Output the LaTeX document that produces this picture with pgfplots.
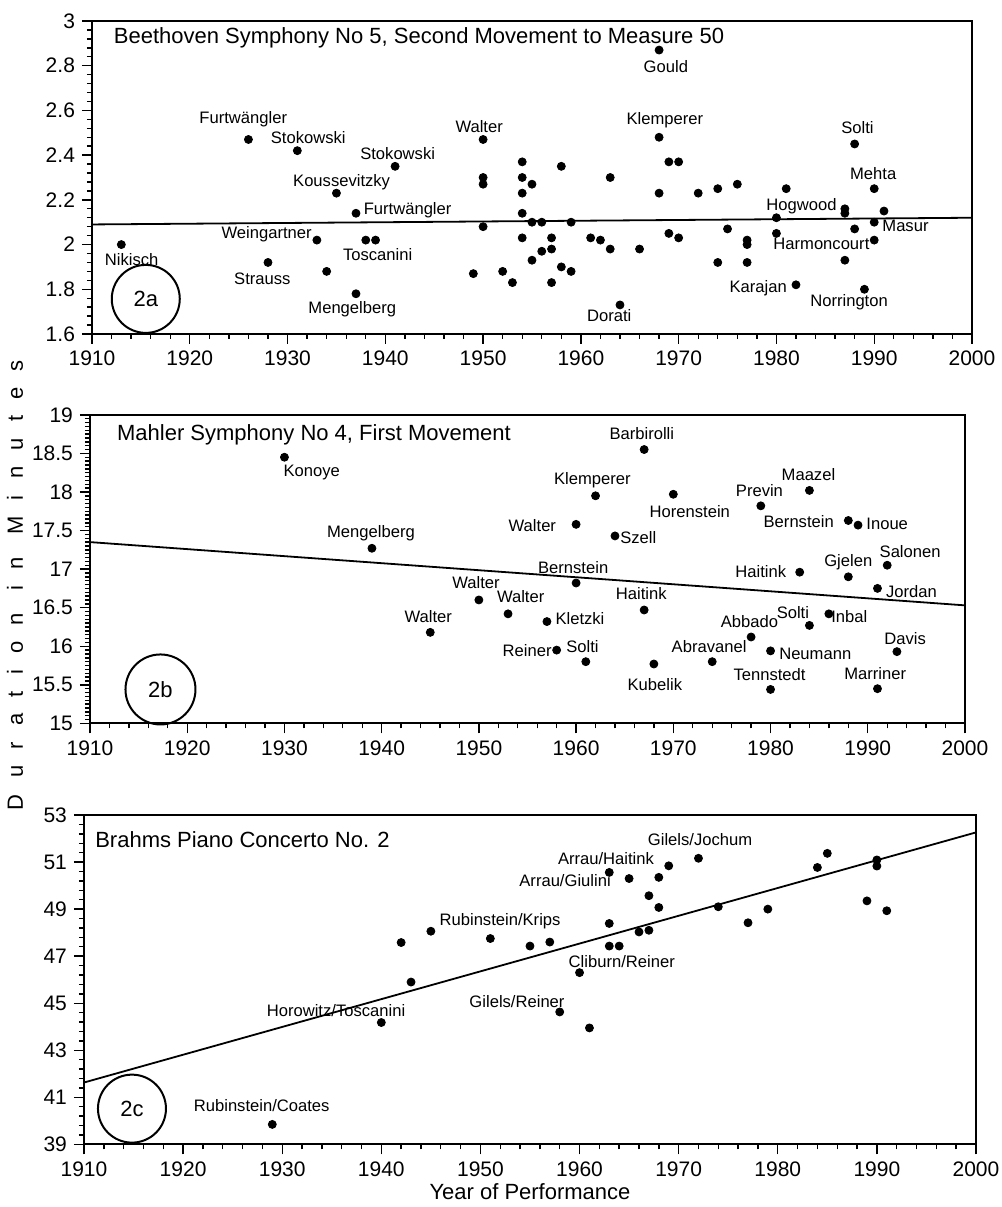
\documentclass[border=0pt]{standalone}
\usepackage{fontspec}
\setmainfont{Liberation Sans}
\usepackage{pgfplots}
\pgfplotsset{compat=1.18}

\newcommand\labfont{\fontsize{8.3}{9}\selectfont}
\newcommand\bigfont{\fontsize{11}{13}\selectfont}

\tikzset{lab/.style={font=\labfont, inner sep=0pt}}

\pgfplotsset{
  panel/.style={
    scale only axis, anchor=south west, clip=false,
    xmin=1910, xmax=2000, xtick={1910,1920,...,2000}, minor x tick num=4,
    tick pos=left, tick align=outside,
    major tick length=5pt, minor tick length=2.5pt,
    axis line style={line width=1pt},
    every tick/.style={black, line width=0.7pt},
    ticklabel style={font=\fontsize{10.5}{12}\selectfont},
    /pgf/number format/assume math mode=true,
    /pgf/number format/set thousands separator={},
  },
  dots/.style={only marks, mark=*, mark size=2pt, black},
  trend/.style={no marks, black, line width=0.9pt},
}

\begin{document}
\begin{tikzpicture}
\useasboundingbox (0,0) rectangle (501pt,603.5pt);

% ---- 2a Beethoven ----
\begin{axis}[panel, at={(46pt,436.5pt)}, width=440pt, height=156.5pt,
  ymin=1.6, ymax=3, ytick={1.6,1.8,2,2.2,2.4,2.6,2.8,3}, minor y tick num=4]
\addplot[trend] coordinates {(1910,2.09) (2000,2.12)};
\addplot[dots] coordinates {
(1913,2.00) (1926,2.47) (1931,2.42) (1941,2.35) (1935,2.23) (1937,2.14)
(1933,2.02) (1938,2.02) (1939,2.02) (1928,1.92) (1934,1.88) (1937,1.78)
(1950,2.47) (1950,2.30) (1950,2.27) (1950,2.08) (1949,1.87) (1952,1.88)
(1953,1.83) (1954,2.37) (1954,2.30) (1954,2.23) (1954,2.14) (1954,2.03)
(1955,2.27) (1955,2.10) (1955,1.93) (1956,2.10) (1956,1.97) (1957,2.03)
(1957,1.98) (1957,1.83) (1958,2.35) (1958,1.90) (1959,2.10) (1959,1.88)
(1961,2.03) (1962,2.02) (1963,2.30) (1963,1.98) (1964,1.73) (1966,1.98)
(1968,2.87) (1968,2.48) (1968,2.23) (1969,2.37) (1970,2.37) (1969,2.05)
(1970,2.03) (1972,2.23) (1974,2.25) (1974,1.92) (1975,2.07) (1976,2.27)
(1977,2.02) (1977,2.00) (1977,1.92) (1980,2.12) (1980,2.05) (1981,2.25)
(1982,1.82) (1987,2.16) (1987,2.14) (1987,1.93) (1988,2.45) (1988,2.07)
(1989,1.80) (1990,2.25) (1990,2.10) (1990,2.02) (1991,2.15)
};
\node[anchor=west, font=\bigfont, inner sep=0pt] at (axis cs:1912.2,2.923) {Beethoven Symphony No 5, Second Movement to Measure 50};
\node[lab] at (axis cs:1914.06,1.934) {Nikisch};
\node[lab] at (axis cs:1925.47,2.562) {Furtwängler};
\node[lab] at (axis cs:1932.12,2.480) {Stokowski};
\node[lab] at (axis cs:1941.26,2.408) {Stokowski};
\node[lab] at (axis cs:1935.53,2.277) {Koussevitzky};
\node[lab] at (axis cs:1942.28,2.152) {Furtwängler};
\node[lab] at (axis cs:1927.86,2.046) {Weingartner};
\node[lab] at (axis cs:1939.21,1.957) {Toscanini};
\node[lab] at (axis cs:1927.42,1.849) {Strauss};
\node[lab] at (axis cs:1936.62,1.711) {Mengelberg};
\node[lab] at (axis cs:1949.6,2.528) {Walter};
\node[lab] at (axis cs:1968.69,2.796) {Gould};
\node[lab] at (axis cs:1968.59,2.557) {Klemperer};
\node[lab] at (axis cs:1962.9,1.681) {Dorati};
\node[lab] at (axis cs:1988.29,2.523) {Solti};
\node[lab] at (axis cs:1989.9,2.319) {Mehta};
\node[lab] at (axis cs:1982.57,2.170) {Hogwood};
\node[lab] at (axis cs:1993.2,2.085) {Masur};
\node[lab] at (axis cs:1984.6,2.003) {Harmoncourt};
\node[lab] at (axis cs:1978.13,1.803) {Karajan};
\node[lab] at (axis cs:1987.43,1.742) {Norrington};
\draw[line width=1pt] (axis cs:1915.5,1.757) circle[radius=17pt];
\node[font=\bigfont] at (axis cs:1915.5,1.757) {2a};
\end{axis}

% ---- 2b Mahler ----
\begin{axis}[panel, at={(45pt,241.8pt)}, width=437.5pt, height=154.3pt,
  ymin=15, ymax=19, ytick={15,15.5,16,16.5,17,17.5,18,18.5,19}, minor y tick num=9]
\addplot[trend] coordinates {(1910,17.35) (2000,16.53)};
\addplot[dots] coordinates {
(1930,18.45) (1939,17.27) (1945,16.18) (1950,16.60) (1953,16.42) (1960,17.58)
(1960,16.82) (1957,16.32) (1958,15.95) (1961,15.80) (1962,17.95) (1964,17.43)
(1967,18.55) (1967,16.47) (1968,15.77) (1970,17.97) (1974,15.80) (1978,16.12)
(1979,17.82) (1980,15.94) (1980,15.44) (1983,16.96) (1984,18.02) (1984,16.27)
(1986,16.42) (1988,17.63) (1988,16.90) (1989,17.57) (1991,16.75) (1991,15.45)
(1992,17.05) (1993,15.93)
};
\node[anchor=west, font=\bigfont, inner sep=0pt] at (axis cs:1912.75,18.737) {Mahler Symphony No 4, First Movement};
\node[lab] at (axis cs:1932.8,18.248) {Konoye};
\node[lab] at (axis cs:1938.9,17.47) {Mengelberg};
\node[lab] at (axis cs:1944.8,16.38) {Walter};
\node[lab] at (axis cs:1949.7,16.826) {Walter};
\node[lab] at (axis cs:1954.3,16.645) {Walter};
\node[lab] at (axis cs:1955.5,17.56) {Walter};
\node[lab] at (axis cs:1959.7,17.016) {Bernstein};
\node[lab] at (axis cs:1960.4,16.354) {Kletzki};
\node[lab] at (axis cs:1954.96,15.95) {Reiner};
\node[lab] at (axis cs:1960.65,15.99) {Solti};
\node[lab] at (axis cs:1961.68,18.153) {Klemperer};
\node[lab] at (axis cs:1966.4,17.405) {Szell};
\node[lab] at (axis cs:1966.76,18.758) {Barbirolli};
\node[lab] at (axis cs:1966.7,16.684) {Haitink};
\node[lab] at (axis cs:1968.1,15.507) {Kubelik};
\node[lab] at (axis cs:1971.7,17.751) {Horenstein};
\node[lab] at (axis cs:1973.68,15.99) {Abravanel};
\node[lab] at (axis cs:1977.83,16.315) {Abbado};
\node[lab] at (axis cs:1978.86,18.023) {Previn};
\node[lab] at (axis cs:1984.6,15.906) {Neumann};
\node[lab] at (axis cs:1979.9,15.637) {Tennstedt};
\node[lab] at (axis cs:1979.0,16.964) {Haitink};
\node[lab] at (axis cs:1983.9,18.23) {Maazel};
\node[lab] at (axis cs:1982.3,16.432) {Solti};
\node[lab] at (axis cs:1988.1,16.38) {Inbal};
\node[lab] at (axis cs:1982.9,17.612) {Bernstein};
\node[lab] at (axis cs:1992.0,17.582) {Inoue};
\node[lab] at (axis cs:1988.0,17.093) {Gjelen};
\node[lab] at (axis cs:1994.36,17.223) {Salonen};
\node[lab] at (axis cs:1994.5,16.713) {Jordan};
\node[lab] at (axis cs:1993.85,16.1) {Davis};
\node[lab] at (axis cs:1990.76,15.646) {Marriner};
\draw[line width=1pt] (axis cs:1917.25,15.44) circle[radius=17.5pt];
\node[font=\bigfont] at (axis cs:1917.25,15.44) {2b};
\end{axis}

% ---- 2c Brahms ----
\begin{axis}[panel, at={(42pt,31.3pt)}, width=446pt, height=164.7pt,
  ymin=39, ymax=53, ytick={39,41,...,53}, minor y tick num=4]
\addplot[trend] coordinates {(1910,41.63) (2000,52.26)};
\addplot[dots] coordinates {
(1929,39.85) (1940,44.18) (1942,47.58) (1943,45.90) (1945,48.06) (1951,47.75)
(1955,47.43) (1957,47.60) (1958,44.63) (1960,46.30) (1961,43.95) (1963,50.56)
(1963,48.39) (1963,47.43) (1964,47.43) (1965,50.30) (1966,48.03) (1967,49.57)
(1967,48.10) (1968,50.35) (1968,49.07) (1969,50.84) (1972,51.16) (1974,49.10)
(1977,48.42) (1979,49.00) (1984,50.77) (1985,51.37) (1989,49.35) (1990,51.09)
(1990,50.83) (1991,48.93)
};
\node[anchor=west, font=\bigfont, inner sep=0pt] at (axis cs:1911.1,51.966) {Brahms Piano Concerto No. 2};
\node[lab] at (axis cs:1927.93,40.66) {Rubinstein/Coates};
\node[lab] at (axis cs:1935.43,44.70) {Horowitz/Toscanini};
\node[lab] at (axis cs:1951.98,48.49) {Rubinstein/Krips};
\node[lab] at (axis cs:1953.69,45.05) {Gilels/Reiner};
\node[lab] at (axis cs:1964.26,46.79) {Cliburn/Reiner};
\node[lab] at (axis cs:1962.67,51.157) {Arrau/Haitink};
\node[lab] at (axis cs:1958.54,50.234) {Arrau/Giulini};
\node[lab] at (axis cs:1972.16,51.966) {Gilels/Jochum};
\draw[line width=1pt] (axis cs:1914.84,40.52) circle[radius=17pt];
\node[font=\bigfont] at (axis cs:1914.84,40.52) {2c};
\end{axis}

\node[font=\bigfont] at (265pt,7.5pt) {Year of Performance};
\node[rotate=90, font=\bigfont\addfontfeature{LetterSpace=74}] at (7.5pt,311pt) {Duration in Minutes};
\end{tikzpicture}
\end{document}
